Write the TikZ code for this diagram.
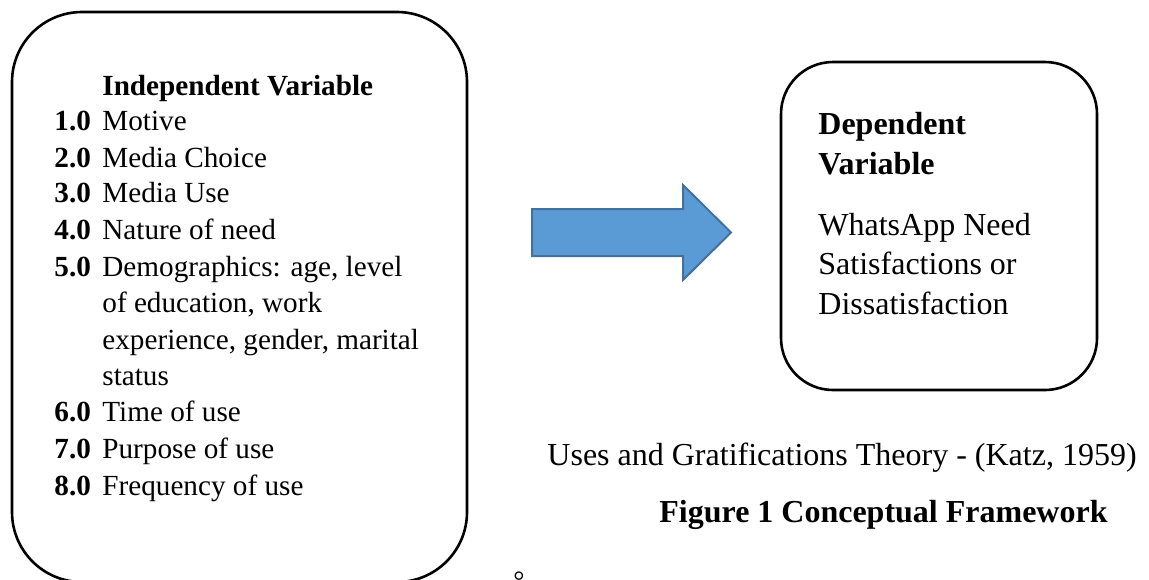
\documentclass[tikz,border=0pt]{standalone}
\usepackage{fontspec}
\setmainfont{Liberation Serif}
\definecolor{arrowblue}{HTML}{5B9BD5}
\definecolor{arrowedge}{HTML}{41719C}
\begin{document}
\begin{tikzpicture}[x=0.5pt,y=-0.5pt,
  frame/.style={draw,line width=1.3pt,inner sep=0pt},
  lbl/.style={anchor=base west,inner sep=0pt,align=left,font=\fontsize{14.6}{18.25}\selectfont},
  rlbl/.style={anchor=base west,inner sep=0pt,align=left,font=\fontsize{16}{19.75}\selectfont},
  blockarrow/.style={fill=arrowblue,draw=arrowedge,line width=1pt}]
\useasboundingbox (0,0) rectangle (1149,579);
\node[frame,rounded corners=35pt,minimum width=227.5pt,minimum height=285pt] (indep) at (239.5,297) {};
\node[frame,rounded corners=26pt,minimum width=158pt,minimum height=164pt] (dep) at (939,226) {};
\node[lbl,font=\fontsize{14.6}{18.25}\selectfont\bfseries] (indeptitle) at (102,95) {Independent Variable};
\foreach \n/\y/\k/\t [count=\i] in {1.0/130/0/Motive, 2.0/167/0/Media Choice, 3.0/202/0/Media Use,
    4.0/239/0/Nature of need,
    5.0/276/3/{Demographics: age, level\\of education, work\\experience, gender, marital\\status},
    6.0/421/0/Time of use, 7.0/458/0/Purpose of use, 8.0/495/0/Frequency of use} {
  \node[lbl] (num\i) at (54,\y) {\textbf{\n}};
  \node[lbl] (item\i) at (102,\y+36.5*\k) {\t};
}
\draw[blockarrow] (532,209) -- (683,209) -- (683,185) -- (731,232.5) -- (683,280)
  -- (683,256) -- (532,256) -- cycle;
\node[rlbl,font=\fontsize{16}{19.75}\selectfont\bfseries] (deptitle) at (818,174) {Dependent\\Variable};
\node[rlbl] (deptext) at (818,314) {WhatsApp Need\\Satisfactions or\\Dissatisfaction};
\node[rlbl,anchor=base east] (theory) at (1137,465) {Uses and Gratifications Theory - (Katz, 1959)};
\node[rlbl,anchor=base east,font=\fontsize{16}{19.75}\selectfont\bfseries] (figcap) at (1108,522) {Figure 1 Conceptual Framework};
\node[anchor=base,inner sep=0pt,font=\fontsize{14}{16}\selectfont] (deg) at (519,590) {°};
\end{tikzpicture}
\end{document}
